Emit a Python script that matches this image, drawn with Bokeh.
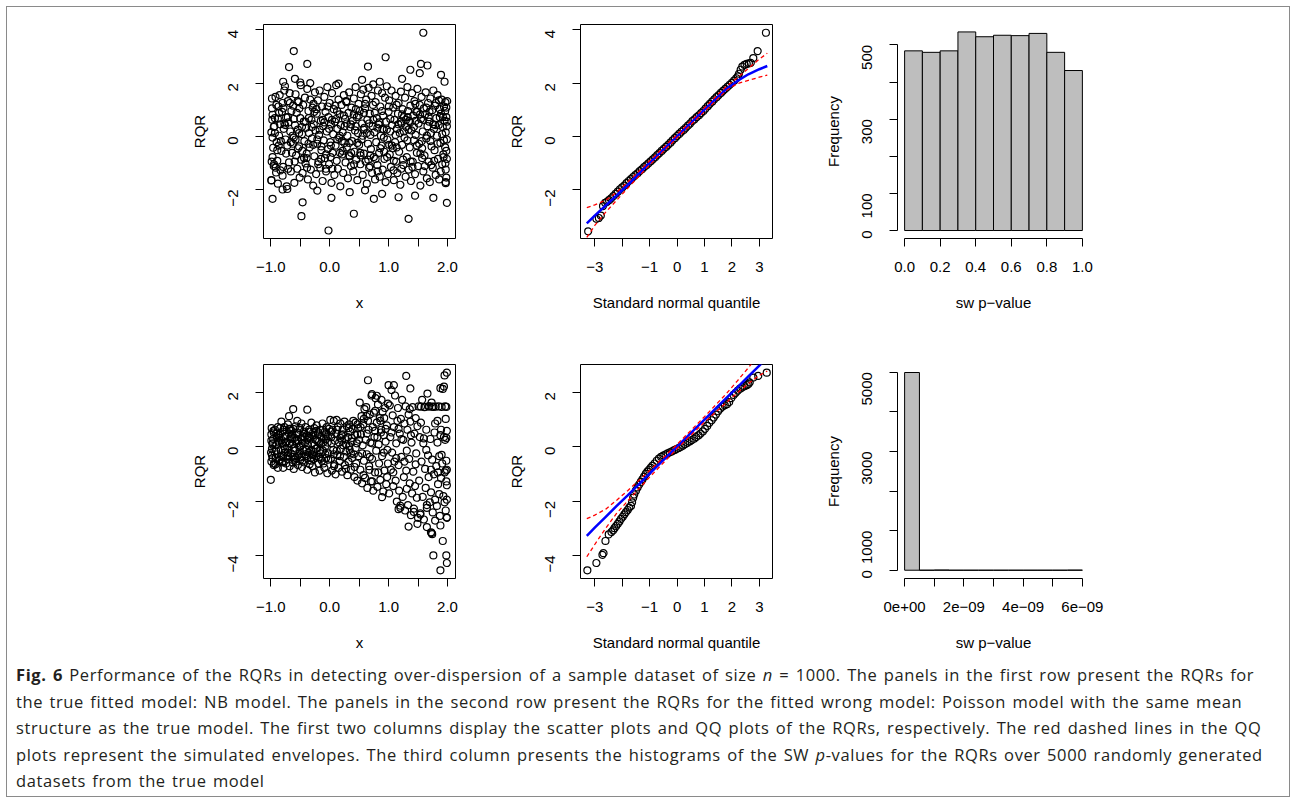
import math
from bokeh.plotting import figure
from bokeh.layouts import row, column
from bokeh.models import FixedTicker, CustomJSTickFormatter, Range1d, Div, Spacer
from bokeh.embed import file_html
from bokeh.resources import INLINE

# ---------------- data ----------------
top_x = [
 -0.98,-0.97,-0.99,-0.96,-0.95,-0.98,-0.94,-0.97,-0.99,-0.93,
 -0.92,-0.90,-0.88,-0.91,-0.87,-0.89,-0.86,-0.85,-0.88,-0.84,
 -0.82,-0.80,-0.81,-0.79,-0.78,-0.77,-0.80,-0.76,-0.75,-0.74,
 -0.73,-0.71,-0.72,-0.70,-0.69,-0.68,-0.67,-0.66,-0.65,-0.64,
 -0.62,-0.61,-0.60,-0.59,-0.58,-0.57,-0.56,-0.55,-0.54,-0.53,
 -0.52,-0.51,-0.50,-0.49,-0.48,-0.47,-0.46,-0.45,-0.44,-0.43,
 -0.42,-0.41,-0.40,-0.39,-0.38,-0.37,-0.36,-0.35,-0.34,-0.33,
 -0.32,-0.31,-0.30,-0.29,-0.28,-0.27,-0.26,-0.25,-0.24,-0.23,
 -0.22,-0.21,-0.20,-0.19,-0.18,-0.17,-0.16,-0.15,-0.14,-0.13,
 -0.12,-0.11,-0.10,-0.09,-0.08,-0.07,-0.06,-0.05,-0.04,-0.03,
 -0.02,-0.01,0.00,0.01,0.02,0.03,0.04,0.05,0.06,0.07,
 0.08,0.09,0.10,0.11,0.12,0.13,0.14,0.15,0.16,0.17,
 0.18,0.19,0.20,0.21,0.22,0.23,0.24,0.25,0.26,0.27,
 0.28,0.29,0.30,0.31,0.32,0.33,0.34,0.35,0.36,0.37,
 0.38,0.39,0.40,0.41,0.42,0.43,0.44,0.45,0.46,0.47,
 0.48,0.49,0.50,0.51,0.52,0.53,0.54,0.55,0.56,0.57,
 0.58,0.59,0.60,0.61,0.62,0.63,0.64,0.65,0.66,0.67,
 0.68,0.69,0.70,0.71,0.72,0.73,0.74,0.75,0.76,0.77,
 0.78,0.79,0.80,0.81,0.82,0.83,0.84,0.85,0.86,0.87,
 0.88,0.89,0.90,0.91,0.92,0.93,0.94,0.95,0.96,0.97,
 0.98,0.99,1.00,1.01,1.02,1.03,1.04,1.05,1.06,1.07,
 1.08,1.09,1.10,1.11,1.12,1.13,1.14,1.15,1.16,1.17,
 1.18,1.19,1.20,1.21,1.22,1.23,1.24,1.25,1.26,1.27,
 1.28,1.29,1.30,1.31,1.32,1.33,1.34,1.35,1.36,1.37,
 1.38,1.39,1.40,1.41,1.42,1.43,1.44,1.45,1.46,1.47,
 1.48,1.49,1.50,1.51,1.52,1.53,1.54,1.55,1.56,1.57,
 1.58,1.59,1.60,1.61,1.62,1.63,1.64,1.65,1.66,1.67,
 1.68,1.69,1.70,1.71,1.72,1.73,1.74,1.75,1.76,1.77,
 1.78,1.79,1.80,1.81,1.82,1.83,1.84,1.85,1.86,1.87,
 1.88,1.89,1.90,1.91,1.92,1.93,1.94,1.95,1.96,1.97,
 1.98,1.99,1.97,1.98,1.99,1.96,1.98,1.99,1.97,1.98,
 -0.95,-0.83,-0.71,-0.63,-0.54,-0.41,-0.28,-0.17,-0.06,0.04,
 0.13,0.24,0.36,0.47,0.58,0.69,0.81,0.92,1.03,1.14,
 1.26,1.37,1.48,1.59,1.71,1.83,1.94,-0.89,-0.77,-0.66,
 -0.52,-0.39,-0.26,-0.14,-0.01,0.11,0.22,0.33,0.44,0.56,
 0.67,0.78,0.89,1.01,1.12,1.23,1.34,1.46,1.57,1.68,
 1.79,1.91,-0.97,-0.86,-0.74,-0.61,-0.47,-0.36,-0.21,-0.09,
 0.02,0.17,0.29,0.41,0.52,0.63,0.74,0.86,0.97,1.09,
 1.21,1.32,1.43,1.54,1.65,1.76,1.87,1.99,-0.93,-0.58,
 -0.985,-0.905,-0.835,-0.755,-0.675,-0.595,-0.515,-0.435,-0.355,-0.275,
 -0.195,-0.115,-0.035,0.045,0.125,0.205,0.285,0.365,0.445,0.525,
 0.605,0.685,0.765,0.845,0.925,1.005,1.085,1.165,1.245,1.325,
 1.405,1.485,1.565,1.645,1.725,1.805,1.885,1.965,-0.945,-0.865,
 -0.785,-0.705,-0.625,-0.545,-0.465,-0.385,-0.305,-0.225,-0.145,-0.065,
 0.015,0.095,0.175,0.255,0.335,0.415,0.495,0.575,0.655,0.735,
 0.815,0.895,0.975,1.055,1.135,1.215,1.295,1.375,1.455,1.535,
 1.615,1.695,1.775,1.855,1.935,1.995,1.965,1.925,-0.975,-0.915,
 1.59,-0.61,-0.38,-0.69,0.95,0.65,1.37,1.55,1.66,1.53,
 1.89,-0.59,0.55,1.23,-0.97,-0.46,-0.48,-0.02,0.41,1.34,
 1.99,1.76,0.89,0.75,-0.80,-0.72,-0.21,0.34,0.60,1.17,
 1.45,0.03,-0.99,1.97,-0.79,-0.33,0.85,1.95,-0.50,0.15,
]
top_rqr = [
 1.42,0.81,0.15,-0.43,-1.12,1.05,0.38,-0.78,-1.65,0.12,
 1.48,-0.22,0.66,-1.36,1.12,-0.92,0.02,1.55,-1.78,0.45,
 -0.55,1.25,0.92,-1.15,0.28,1.72,-1.48,1.88,-0.12,0.71,
 -1.88,1.32,-0.35,0.52,-0.98,1.62,0.18,-1.32,0.95,-0.62,
 1.15,-0.05,-1.75,0.42,1.58,-0.72,0.88,-1.22,0.25,1.28,
 -0.38,-1.55,0.68,1.92,-0.88,0.08,-1.38,1.18,0.55,-0.18,
 1.45,-1.02,0.32,-0.65,1.78,-1.62,0.95,0.12,-0.42,1.38,
 -1.25,0.62,-0.08,1.08,-1.85,0.45,-0.75,1.65,0.22,-1.42,
 0.85,-0.28,1.35,-0.95,0.05,1.72,-1.18,0.58,-0.52,1.12,
 -1.68,0.38,-0.15,1.48,-0.82,0.92,-1.32,0.18,1.85,-0.48,
 0.72,-1.05,1.25,-0.22,0.45,-1.75,1.62,-0.62,0.08,1.02,
 -1.45,0.55,-0.35,1.92,-0.92,0.28,-1.22,1.38,-0.05,0.82,
 -1.88,0.42,1.18,-0.68,0.15,-1.38,1.55,-0.25,0.65,-0.98,
 1.32,-0.42,0.02,-1.58,0.88,1.65,-0.75,0.35,-1.12,1.08,
 -0.18,0.58,-1.32,1.42,-0.58,0.22,1.85,-0.88,0.72,-1.65,
 0.12,1.22,-0.32,0.95,-1.05,1.58,-0.12,0.48,-1.45,1.75,
 -0.65,0.32,1.05,-0.95,1.38,-1.78,0.62,-0.28,1.82,-1.18,
 0.85,0.05,-0.48,1.52,-1.38,0.38,1.95,-0.78,0.15,-1.62,
 1.28,-0.22,0.68,-1.08,1.72,0.45,-0.62,-1.52,1.12,0.02,
 -0.35,1.62,-1.25,0.78,0.25,-0.85,1.45,-1.72,0.55,1.88,
 -0.12,-1.42,0.92,1.35,-0.68,0.18,-1.15,1.72,0.42,-0.45,
 1.08,-1.65,0.62,-0.22,1.52,-0.95,0.28,-1.38,0.85,1.25,
 -0.58,0.12,-1.82,1.68,0.48,-0.32,1.02,-1.08,0.72,-0.05,
 1.45,-1.52,0.35,-0.78,1.85,0.95,-1.25,0.58,-0.42,1.15,
 -1.68,0.22,1.62,-0.95,0.78,-0.15,1.32,-1.42,0.05,0.92,
 -0.62,1.78,-1.12,0.48,-0.28,1.18,-1.85,0.65,1.48,-0.45,
 0.18,-1.32,1.05,-0.72,0.82,1.65,-0.08,-1.58,0.38,1.25,
 -0.95,0.55,-1.72,1.42,0.12,-0.38,0.98,-1.18,1.72,0.28,
 -0.52,1.15,-1.45,0.68,0.02,1.55,-0.85,0.42,-1.62,1.02,
 -0.25,0.85,1.38,-1.05,0.35,-0.68,1.12,0.58,-0.42,0.15,
 1.08,-0.85,-1.25,0.72,-0.12,0.95,-0.55,0.38,-1.72,-1.55,
 0.35,-0.18,0.72,0.02,-0.45,0.55,-0.32,0.25,-0.68,0.62,
 -0.12,0.78,0.45,-0.25,0.88,-0.72,0.32,-0.05,0.65,-0.42,
 0.18,0.52,-0.35,0.62,-0.18,-0.28,-0.15,-0.52,0.48,-0.22,
 0.12,-0.82,0.92,-0.38,0.28,0.65,-0.55,-0.72,0.38,0.02,
 0.48,-0.85,0.95,-0.32,0.05,0.82,0.25,0.58,-0.82,0.72,
 0.42,0.08,-0.05,0.88,-0.65,0.65,0.35,-0.28,-0.12,0.52,
 -0.35,0.02,0.48,0.82,-0.62,0.12,0.62,-0.45,0.25,-0.92,
 0.55,-0.15,0.35,-0.65,0.02,0.45,0.72,0.55,0.68,-0.12,
 -0.95,1.18,-1.28,0.42,1.25,-0.95,1.05,-0.82,0.68,1.22,
 -1.05,0.62,1.12,-1.22,0.95,-0.18,1.28,-0.62,1.02,-0.72,
 1.22,-1.12,0.88,0.52,-0.58,1.12,-1.28,0.45,-0.88,0.72,
 -1.15,0.92,-0.18,1.08,-1.08,1.25,-1.32,1.28,-1.05,-0.35,
 1.05,-1.22,-0.28,1.32,-0.55,-1.18,0.35,1.02,-0.85,-1.22,
 -0.78,1.15,-0.62,0.38,-0.25,-1.05,0.78,0.25,-0.88,1.18,
 -1.32,0.28,-0.78,-0.35,1.18,-1.22,0.62,-0.95,1.22,0.82,
 -1.12,0.92,-0.92,1.35,-0.78,1.32,-1.02,0.72,0.62,-1.18,
 3.89,3.20,2.72,2.60,2.97,2.62,2.50,2.72,2.66,2.37,
 2.31,2.16,2.12,2.16,-2.35,-2.48,-3.00,-3.54,-2.91,-3.10,
 -2.50,-2.31,-2.16,-2.35,-2.00,-1.98,-2.04,-2.10,-2.03,-2.29,
 -2.23,-2.31,-1.66,-1.76,2.05,2.00,2.05,2.05,2.02,1.98,
]

bot_x = [
 -0.99,-0.98,-0.97,-0.99,-0.96,-0.98,-0.95,-0.97,-0.99,-0.94,
 -0.93,-0.92,-0.91,-0.90,-0.89,-0.88,-0.87,-0.86,-0.85,-0.84,
 -0.83,-0.82,-0.81,-0.80,-0.79,-0.78,-0.77,-0.76,-0.75,-0.74,
 -0.73,-0.72,-0.71,-0.70,-0.69,-0.68,-0.67,-0.66,-0.65,-0.64,
 -0.63,-0.62,-0.61,-0.60,-0.59,-0.58,-0.57,-0.56,-0.55,-0.54,
 -0.53,-0.52,-0.51,-0.50,-0.49,-0.48,-0.47,-0.46,-0.45,-0.44,
 -0.43,-0.42,-0.41,-0.40,-0.39,-0.38,-0.37,-0.36,-0.35,-0.34,
 -0.33,-0.32,-0.31,-0.30,-0.29,-0.28,-0.27,-0.26,-0.25,-0.24,
 -0.23,-0.22,-0.21,-0.20,-0.19,-0.18,-0.17,-0.16,-0.15,-0.14,
 -0.13,-0.12,-0.11,-0.10,-0.09,-0.08,-0.07,-0.06,-0.05,-0.04,
 -0.03,-0.02,-0.01,-0.97,-0.91,-0.86,-0.81,-0.76,-0.71,-0.66,
 -0.61,-0.56,-0.51,-0.46,-0.41,-0.36,-0.31,-0.26,-0.21,-0.16,
 -0.11,-0.06,-0.95,-0.88,-0.79,-0.69,-0.58,-0.48,-0.38,-0.28,
 -0.995,-0.955,-0.915,-0.875,-0.835,-0.795,-0.755,-0.715,-0.675,-0.635,
 -0.595,-0.555,-0.515,-0.475,-0.435,-0.395,-0.355,-0.315,-0.275,-0.235,
 -0.195,-0.155,-0.115,-0.075,-0.035,-0.985,-0.945,-0.905,-0.865,-0.825,
 -0.785,-0.745,-0.705,-0.665,-0.625,-0.585,-0.545,-0.505,-0.465,-0.425,
 -0.385,-0.345,-0.305,-0.265,-0.225,-0.185,-0.145,-0.105,-0.065,-0.025,
 0.01,0.02,0.03,0.04,0.05,0.06,0.07,0.08,0.09,0.10,
 0.11,0.12,0.13,0.14,0.15,0.16,0.17,0.18,0.19,0.20,
 0.21,0.22,0.23,0.24,0.25,0.26,0.27,0.28,0.29,0.30,
 0.31,0.32,0.33,0.34,0.35,0.36,0.37,0.38,0.39,0.40,
 0.41,0.42,0.43,0.44,0.45,0.46,0.47,0.48,0.49,0.50,
 0.03,0.12,0.21,0.28,0.36,0.44,0.07,0.18,0.33,0.47,
 0.025,0.075,0.125,0.175,0.225,0.275,0.325,0.375,0.425,0.475,
 0.51,0.52,0.53,0.54,0.55,0.56,0.57,0.58,0.59,0.60,
 0.61,0.62,0.63,0.64,0.65,0.66,0.67,0.68,0.69,0.70,
 0.71,0.72,0.73,0.74,0.75,0.76,0.77,0.78,0.79,0.80,
 0.81,0.82,0.83,0.84,0.85,0.86,0.87,0.88,0.89,0.90,
 0.91,0.92,0.93,0.94,0.95,0.96,0.97,0.98,0.99,0.55,
 0.63,0.72,0.81,0.92,0.58,0.68,0.77,0.86,0.95,0.99,
 0.525,0.575,0.625,0.675,0.725,0.775,0.825,0.875,0.925,0.975,
 1.01,1.02,1.03,1.04,1.05,1.06,1.07,1.08,1.09,1.10,
 1.11,1.12,1.13,1.14,1.15,1.16,1.17,1.18,1.19,1.20,
 1.21,1.22,1.23,1.24,1.25,1.26,1.27,1.28,1.29,1.30,
 1.31,1.32,1.33,1.34,1.35,1.36,1.37,1.38,1.39,1.40,
 1.41,1.42,1.43,1.44,1.45,1.46,1.47,1.48,1.49,1.50,
 1.05,1.13,1.22,1.31,1.38,1.46,1.08,1.17,1.27,1.36,
 1.51,1.52,1.53,1.54,1.55,1.56,1.57,1.58,1.59,1.60,
 1.61,1.62,1.63,1.64,1.65,1.66,1.67,1.68,1.69,1.70,
 1.71,1.72,1.73,1.74,1.75,1.76,1.77,1.78,1.79,1.80,
 1.81,1.82,1.83,1.84,1.85,1.86,1.87,1.88,1.89,1.90,
 1.91,1.92,1.93,1.94,1.95,1.96,1.97,1.98,1.99,1.99,
 1.98,1.97,1.99,1.96,1.98,1.99,1.97,1.95,1.99,1.98,
 1.55,1.62,1.68,1.74,1.79,1.84,1.89,1.64,1.72,1.86,
 -1.00,-0.62,-0.38,-0.69,-0.55,-0.82,0.65,1.30,1.00,1.09,
 1.99,1.95,1.94,1.88,1.37,0.72,0.80,0.89,1.34,1.65,
 1.73,1.76,1.88,1.92,1.98,1.99,1.49,1.79,1.99,1.88,
 1.65,1.20,1.17,1.54,1.43,1.74,1.72,1.60,1.90,1.83,
]
bot_rqr = [
 0.45,-0.32,0.12,-0.55,0.28,-0.08,0.52,-0.42,0.22,-0.18,
 0.62,-0.65,0.05,0.35,-0.28,-0.78,0.42,0.15,-0.48,0.68,
 -0.12,0.25,-0.58,0.55,-0.35,0.02,0.72,-0.22,0.38,-0.62,
 0.18,-0.45,0.82,-0.05,0.48,-0.72,0.28,-0.25,0.58,0.08,
 -0.38,0.65,-0.82,0.32,-0.15,0.75,-0.55,0.12,0.45,-0.68,
 0.22,-0.28,0.62,-0.48,0.02,0.85,-0.75,0.38,-0.12,0.55,
 -0.58,0.15,0.72,-0.35,0.42,-0.85,0.05,-0.22,0.62,-0.65,
 0.32,-0.42,0.88,0.12,-0.72,0.52,-0.18,0.68,-0.95,0.25,
 -0.35,0.78,-0.05,0.45,-0.62,0.18,-0.88,0.62,-0.25,0.35,
 -0.52,0.85,-0.15,0.28,-0.78,0.55,0.02,-0.42,0.72,-0.98,
 0.38,-0.25,0.65,0.08,-0.15,0.32,0.12,-0.08,-0.22,0.35,
 -0.05,0.25,-0.18,0.12,-0.28,0.32,-0.12,0.05,0.22,-0.15,
 0.15,0.28,-0.68,0.72,-0.78,0.65,-0.42,0.28,0.25,-0.32,
 -0.22,0.58,-0.42,0.22,0.48,-0.55,0.38,-0.35,0.12,0.45,
 -0.48,0.52,-0.02,-0.38,0.48,-0.12,0.38,-0.52,0.42,-0.08,
 0.52,-0.45,0.62,-0.28,0.15,0.68,-0.62,0.48,-0.52,-0.38,
 0.62,0.15,-0.32,0.65,-0.58,0.22,-0.35,0.68,-0.52,0.35,
 -0.42,0.55,-0.28,-0.45,0.58,-0.38,0.12,-0.62,0.45,-0.48,
 0.98,-0.45,0.35,-0.88,0.62,-0.12,0.95,-0.65,0.22,-1.02,
 0.48,0.98,-0.32,0.72,-0.78,0.15,-0.52,0.85,-0.08,0.42,
 -0.92,0.62,0.05,-0.38,0.92,-0.68,0.28,-0.18,0.75,-1.05,
 0.35,-0.55,0.82,-0.12,0.55,-0.85,0.18,-0.42,0.65,0.95,
 -0.28,-1.12,0.42,0.88,-0.62,0.12,-1.25,0.68,-0.35,0.25,
 0.12,-0.15,0.22,0.08,-0.25,-0.05,-0.28,0.32,0.02,0.45,
 0.55,-0.72,0.62,-0.35,0.45,-0.82,0.68,0.32,-0.75,0.82,
 1.62,-0.85,0.45,1.12,-1.35,0.05,0.82,-0.52,1.38,-1.15,
 0.25,1.45,-0.28,-1.52,0.95,0.62,-0.72,1.18,0.15,-1.28,
 1.88,-0.45,0.72,-1.62,1.25,0.35,-0.95,1.78,-0.15,0.88,
 -1.48,1.55,0.08,-0.62,1.05,-1.22,0.52,1.72,-0.35,1.28,
 -1.65,0.42,-0.88,1.42,0.18,-1.38,0.78,-0.12,1.58,-0.25,
 0.48,0.12,0.35,-0.22,1.02,-0.38,0.58,0.95,0.65,-0.62,
 0.72,-1.05,1.12,-0.85,-1.28,1.32,-0.95,0.62,1.05,-1.12,
 -1.72,1.52,0.35,-0.85,2.08,-0.22,1.15,-1.45,0.72,-0.55,
 1.88,-1.25,0.12,-2.02,0.95,1.42,-0.68,-1.62,0.48,-2.25,
 1.02,-0.38,1.72,-1.85,0.25,-1.12,0.85,-2.35,1.48,-0.88,
 -1.55,0.62,-2.15,1.18,-0.45,-1.35,0.92,-2.52,0.15,-1.72,
 1.45,-0.92,-2.28,0.48,-1.45,1.05,-0.25,-1.88,0.75,-2.62,
 0.52,-0.42,0.28,-0.15,0.42,-0.65,-0.95,0.65,-0.55,1.38,
 1.48,-1.25,0.35,-2.45,0.88,-0.55,1.72,-1.85,0.12,-2.68,
 1.45,-0.82,-1.52,0.62,-2.25,1.95,-0.32,-1.12,1.48,-2.05,
 0.28,-1.68,1.62,-0.48,-2.42,1.46,-1.02,0.52,-1.95,1.47,
 -0.72,-2.18,0.95,-1.38,1.48,-0.35,-2.55,0.42,-1.15,1.46,
 -0.62,2.12,-1.82,0.35,-0.95,1.48,-2.35,-0.52,0.58,-1.42,
 1.46,-0.88,-1.95,0.25,-1.28,-0.85,1.02,-2.05,-2.62,0.32,
 1.47,1.46,1.48,1.47,0.85,-0.95,0.62,-0.12,-0.85,-1.75,
 -1.22,1.38,1.36,1.12,0.95,0.92,2.44,2.60,2.26,2.26,
 2.72,2.62,2.21,2.15,2.14,1.93,1.87,-1.86,-2.94,-2.96,
 -3.18,-4.00,-4.55,-3.47,-4.00,-4.28,-2.84,-2.72,-2.60,-2.90,
 -2.15,-2.17,-2.30,-2.50,-2.40,-3.22,-3.15,0.30,-0.30,0.15,
]

qq_top_theo = [
 -3.24,-2.94,-2.85,-2.78,-2.70,-2.62,-2.55,-2.48,
 -2.40,-2.32,-2.24,-2.16,-2.08,-2.00,-1.92,-1.84,-1.76,-1.68,
 -1.60,-1.52,-1.44,-1.36,-1.28,-1.20,-1.12,-1.04,-0.96,-0.88,
 -0.80,-0.72,-0.64,-0.56,-0.48,-0.40,-0.32,-0.24,-0.16,-0.08,
 0.00,0.08,0.16,0.24,0.32,0.40,0.48,0.56,0.64,0.72,
 0.80,0.88,0.96,1.04,1.12,1.20,1.28,1.36,1.44,1.52,
 1.60,1.68,1.76,1.84,1.92,2.00,2.08,2.16,
 2.22,2.26,2.32,2.38,2.46,2.54,2.62,2.69,2.78,2.94,3.24,
]
qq_top_rqr = [
 -3.57,-3.10,-3.07,-2.98,-2.62,-2.50,-2.46,-2.40,
 -2.33,-2.25,-2.16,-2.08,-1.99,-1.92,-1.85,-1.76,-1.68,-1.61,
 -1.53,-1.46,-1.39,-1.31,-1.24,-1.16,-1.09,-1.02,-0.94,-0.87,
 -0.79,-0.71,-0.63,-0.55,-0.47,-0.40,-0.32,-0.24,-0.15,-0.07,
 0.01,0.09,0.17,0.24,0.32,0.40,0.48,0.57,0.64,0.72,
 0.79,0.87,0.95,1.04,1.13,1.22,1.30,1.39,1.47,1.55,
 1.63,1.71,1.78,1.86,1.93,2.01,2.09,2.18,
 2.25,2.35,2.50,2.62,2.68,2.72,2.74,2.76,2.94,3.20,3.89,
]
qq_bot_theo = [
 -3.27,-2.94,-2.72,-2.68,-2.61,-2.49,-2.39,-2.33,
 -2.28,-2.22,-2.16,-2.10,-2.04,-1.98,-1.92,-1.86,-1.80,-1.74,-1.68,
 -1.64,-1.60,-1.56,
 -1.50,-1.44,-1.38,-1.32,-1.26,-1.20,-1.14,-1.08,-1.02,-0.96,-0.90,
 -0.82,-0.74,-0.66,-0.58,-0.50,-0.42,-0.34,-0.26,-0.18,-0.10,
 -0.02,0.06,0.14,0.22,0.30,0.38,0.46,0.54,0.62,0.70,
 0.78,0.86,0.94,1.02,1.10,1.18,1.26,1.34,1.42,1.50,
 1.58,1.66,1.74,1.82,1.90,1.98,2.06,2.14,2.22,2.30,
 2.38,2.46,2.54,
 2.60,2.65,2.78,2.96,3.27,
]
qq_bot_rqr = [
 -4.55,-4.28,-3.98,-3.92,-3.47,-3.23,-3.14,-3.08,
 -3.00,-2.92,-2.84,-2.75,-2.66,-2.58,-2.49,-2.41,-2.33,-2.24,-2.18,
 -2.05,-1.88,-1.76,
 -1.62,-1.50,-1.40,-1.30,-1.20,-1.10,-1.00,-0.92,-0.85,-0.78,-0.71,
 -0.62,-0.52,-0.44,-0.38,-0.33,-0.29,-0.25,-0.21,-0.17,-0.13,
 -0.09,-0.05,-0.01,0.04,0.09,0.14,0.19,0.24,0.29,0.35,
 0.41,0.48,0.56,0.65,0.76,0.87,0.97,1.07,1.18,1.30,
 1.40,1.47,1.52,1.56,1.64,1.78,1.90,1.98,2.06,2.13,
 2.18,2.22,2.26,
 2.30,2.36,2.54,2.60,2.72,
]

env_x = [-3.29, -3.0, -2.6, -2.2, -1.8, -1.0, 0.0, 1.0, 1.8, 2.2, 2.6, 3.0, 3.29]
top_env_upper = [-2.68, -2.58, -2.40, -2.10, -1.72, -0.92, 0.07, 1.08, 1.88, 2.20, 2.55, 2.90, 3.12]
top_env_lower = [-3.80, -3.35, -2.85, -2.40, -1.95, -1.08, -0.07, 0.92, 1.72, 1.98, 2.10, 2.22, 2.30]
top_env_mid = [-3.27, -2.98, -2.60, -2.22, -1.83, -1.00, 0.00, 1.00, 1.78, 2.08, 2.33, 2.52, 2.64]
bot_env_upper = [-2.65, -2.52, -2.30, -1.97, -1.62, -0.88, 0.08, 1.10, 1.95, 2.42, 2.90, 3.40, 3.70]
bot_env_lower = [-4.05, -3.60, -3.00, -2.45, -2.00, -1.12, -0.08, 0.90, 1.62, 1.98, 2.32, 2.62, 2.78]
bot_env_mid = [-3.28, -2.98, -2.58, -2.18, -1.79, -0.99, 0.00, 0.99, 1.79, 2.18, 2.58, 2.98, 3.27]

hist_top_edges = [0.0, 0.1, 0.2, 0.3, 0.4, 0.5, 0.6, 0.7, 0.8, 0.9, 1.0]
hist_top_counts = [484, 480, 484, 535, 522, 526, 525, 531, 480, 431]
hist_bot_edges = [0.0, 0.5e-9, 1.0e-9, 1.5e-9, 2.0e-9, 2.5e-9, 3.0e-9,
                  3.5e-9, 4.0e-9, 4.5e-9, 5.0e-9, 5.5e-9, 6.0e-9]
hist_bot_counts = [4992, 0, 5, 0, 0, 0, 0, 0, 0, 0, 0, 3]

scatter_xticks = [-1.0, -0.5, 0.0, 0.5, 1.0, 1.5, 2.0]
top_yticks = [-2, 0, 2, 4]
bot_yticks = [-4, -2, 0, 2]
qq_xticks = [-3, -2, -1, 0, 1, 2, 3]
hist_top_xticks = [0.0, 0.2, 0.4, 0.6, 0.8, 1.0]
hist_top_yticks = [0, 100, 200, 300, 400, 500]
hist_bot_xticks = [0.0, 1e-9, 2e-9, 3e-9, 4e-9, 5e-9, 6e-9]
hist_bot_yticks = [0, 1000, 2000, 3000, 4000, 5000]

# ---------------- styling helpers ----------------
FONT = "Liberation Sans"
FS = "15px"
PT_LW = 1.2

FMT_MINUS = CustomJSTickFormatter(code="return String(Math.round(tick)).replace('-', '\\u2212');")
FMT_SCAT_X = CustomJSTickFormatter(code="if (Math.abs(tick - Math.round(tick)) > 1e-6) { return ''; } return tick.toFixed(1).replace('-', '\\u2212');")
FMT_QQ_X = CustomJSTickFormatter(code="var v = Math.round(tick); if (v == -2) { return ''; } return String(v).replace('-', '\\u2212');")
FMT_H1_X = CustomJSTickFormatter(code="return tick.toFixed(1);")
FMT_H1_Y = CustomJSTickFormatter(code="var v = Math.round(tick); if (v == 200 || v == 400) { return ''; } return String(v);")
FMT_H2_X = CustomJSTickFormatter(code="var k = Math.round(tick * 1e9); if (k % 2 != 0) { return ''; } if (k == 0) { return '0e+00'; } return k + 'e\\u221209';")
FMT_H2_Y = CustomJSTickFormatter(code="var v = Math.round(tick); if (v == 2000 || v == 4000) { return ''; } return String(v);")


def make_fig(width, height, mbl, mbr, mbt, mbb, xr, yr, box):
    p = figure(width=width, height=height, x_range=Range1d(*xr), y_range=Range1d(*yr),
               toolbar_location=None, tools="", output_backend="svg",
               min_border_left=mbl, min_border_right=mbr,
               min_border_top=mbt, min_border_bottom=mbb, margin=0)
    p.xgrid.visible = False
    p.ygrid.visible = False
    p.outline_line_color = "black" if box else None
    p.outline_line_width = 1
    p.background_fill_color = None
    p.border_fill_color = None
    for ax in (p.xaxis[0], p.yaxis[0]):
        ax.axis_line_color = "black"
        ax.axis_line_width = 1
        ax.major_tick_line_color = "black"
        ax.major_tick_line_width = 1
        ax.minor_tick_line_color = None
        ax.major_tick_in = 0
        ax.major_tick_out = 8
        ax.major_label_text_font = FONT
        ax.major_label_text_font_size = FS
        ax.major_label_text_color = "black"
        ax.axis_label_text_font = FONT
        ax.axis_label_text_font_size = FS
        ax.axis_label_text_font_style = "normal"
        ax.axis_label_text_color = "black"
    p.xaxis[0].major_label_standoff = 15
    p.xaxis[0].axis_label_standoff = 19
    p.yaxis[0].major_label_orientation = math.pi / 2
    p.yaxis[0].major_label_standoff = 22
    p.yaxis[0].axis_label_standoff = 13
    return p


def scatter_panel(xs, ys, yr, yticks, width, height, mbl, mbr, mbt, mbb):
    p = make_fig(width, height, mbl, mbr, mbt, mbb, (-1.124, 2.136), yr, True)
    p.scatter(xs, ys, marker="circle", size=7, fill_color=None, line_color="black", line_width=PT_LW)
    p.xaxis[0].ticker = FixedTicker(ticks=scatter_xticks)
    p.xaxis[0].formatter = FMT_SCAT_X
    p.yaxis[0].ticker = FixedTicker(ticks=yticks)
    p.yaxis[0].formatter = FMT_MINUS
    p.xaxis[0].bounds = (scatter_xticks[0], scatter_xticks[-1])
    p.yaxis[0].bounds = (yticks[0], yticks[-1])
    p.xaxis[0].axis_label = "x"
    p.yaxis[0].axis_label = "RQR"
    return p


def qq_panel(qx, qy, lo, mid, hi, yr, yticks, width, height, mbl, mbr, mbt, mbb):
    p = make_fig(width, height, mbl, mbr, mbt, mbb, (-3.52, 3.48), yr, True)
    p.scatter(qx, qy, marker="circle", size=7, fill_color=None, line_color="black", line_width=PT_LW)
    p.line(env_x, mid, line_color="#0000ff", line_width=2.5)
    p.line(env_x, lo, line_color="#ff0000", line_width=1.3, line_dash="4 3")
    p.line(env_x, hi, line_color="#ff0000", line_width=1.3, line_dash="4 3")
    p.xaxis[0].ticker = FixedTicker(ticks=qq_xticks)
    p.xaxis[0].formatter = FMT_QQ_X
    p.yaxis[0].ticker = FixedTicker(ticks=yticks)
    p.yaxis[0].formatter = FMT_MINUS
    p.xaxis[0].bounds = (qq_xticks[0], qq_xticks[-1])
    p.yaxis[0].bounds = (yticks[0], yticks[-1])
    p.xaxis[0].axis_label = "Standard normal quantile"
    p.yaxis[0].axis_label = "RQR"
    return p


def hist_panel(edges, counts, xr, yr, xticks, yticks, fx, fy, width, height, mbl, mbr, mbt, mbb):
    p = make_fig(width, height, mbl, mbr, mbt, mbb, xr, yr, False)
    p.quad(left=edges[:-1], right=edges[1:], bottom=[0] * len(counts), top=counts,
           fill_color="#bebebe", line_color="black", line_width=1)
    p.xaxis[0].ticker = FixedTicker(ticks=xticks)
    p.xaxis[0].formatter = fx
    p.yaxis[0].ticker = FixedTicker(ticks=yticks)
    p.yaxis[0].formatter = fy
    p.xaxis[0].bounds = (xticks[0], xticks[-1])
    p.yaxis[0].bounds = (yticks[0], yticks[-1])
    p.xaxis[0].axis_label = "sw p\u2212value"
    p.yaxis[0].axis_label = "Frequency"
    return p


# ---------------- panels ----------------
p1 = scatter_panel(top_x, top_rqr, (-3.84, 4.2), top_yticks, 483, 340, 256, 35, 17, 109)
p2 = qq_panel(qq_top_theo, qq_top_rqr, top_env_lower, top_env_mid, top_env_upper,
              (-3.84, 4.2), top_yticks, 317, 340, 90, 35, 17, 109)
p3 = hist_panel(hist_top_edges, hist_top_counts, (-0.04, 1.04), (-21.5, 555),
                hist_top_xticks, hist_top_yticks, FMT_H1_X, FMT_H1_Y, 482, 340, 90, 200, 17, 109)

p4 = scatter_panel(bot_x, bot_rqr, (-4.85, 3.02), bot_yticks, 483, 311, 256, 35, 17, 80)
p5 = qq_panel(qq_bot_theo, qq_bot_rqr, bot_env_lower, bot_env_mid, bot_env_upper,
              (-4.85, 3.02), bot_yticks, 317, 311, 90, 35, 17, 80)
p6 = hist_panel(hist_bot_edges, hist_bot_counts, (-0.24e-9, 6.24e-9), (-209, 5194),
                hist_bot_xticks, hist_bot_yticks, FMT_H2_X, FMT_H2_Y, 482, 311, 90, 200, 17, 80)

caption_html = (
    "<div style=\"font-family:'Open Sans',sans-serif;font-size:16.5px;line-height:26.5px;"
    "letter-spacing:0.6px;word-spacing:1.5px;"
    "color:#231f20;white-space:nowrap;padding:4px 0 0 9px;\">"
    "<b>Fig. 6</b> Performance of the RQRs in detecting over-dispersion of a sample dataset of size "
    "<i>n</i> = 1000. The panels in the first row present the RQRs for<br>"
    "the true fitted model: NB model. The panels in the second row present the RQRs for the fitted "
    "wrong model: Poisson model with the same mean<br>"
    "structure as the true model. The first two columns display the scatter plots and QQ plots of "
    "the RQRs, respectively. The red dashed lines in the QQ<br>"
    "plots represent the simulated envelopes. The third column presents the histograms of the SW "
    "<i>p</i>-values for the RQRs over 5000 randomly generated<br>"
    "datasets from the true model</div>"
)
caption = Div(text=caption_html, width=1282, height=138, margin=0)

# ---------------- frame around the figure (thin grey box) ----------------
BORDER = "#8a8a8a"


def hline(w):
    return Div(text="", width=w, height=1, margin=0,
               styles={"background-color": BORDER, "overflow": "hidden"})


def vline(h):
    return Div(text="", width=1, height=h, margin=0,
               styles={"background-color": BORDER, "overflow": "hidden"})


content = column(
    row(p1, p2, p3, spacing=0),
    row(p4, p5, p6, spacing=0),
    caption,
    spacing=0,
)

boxed = column(
    hline(1284),
    row(vline(789), content, vline(789), spacing=0),
    hline(1284),
    spacing=0,
)

layout = column(
    Spacer(width=1292, height=6, margin=0),
    row(Spacer(width=6, height=791, margin=0), boxed, spacing=0),
    spacing=0,
)

with open("out.html", "w", encoding="utf-8") as f:
    f.write(file_html(layout, INLINE))
